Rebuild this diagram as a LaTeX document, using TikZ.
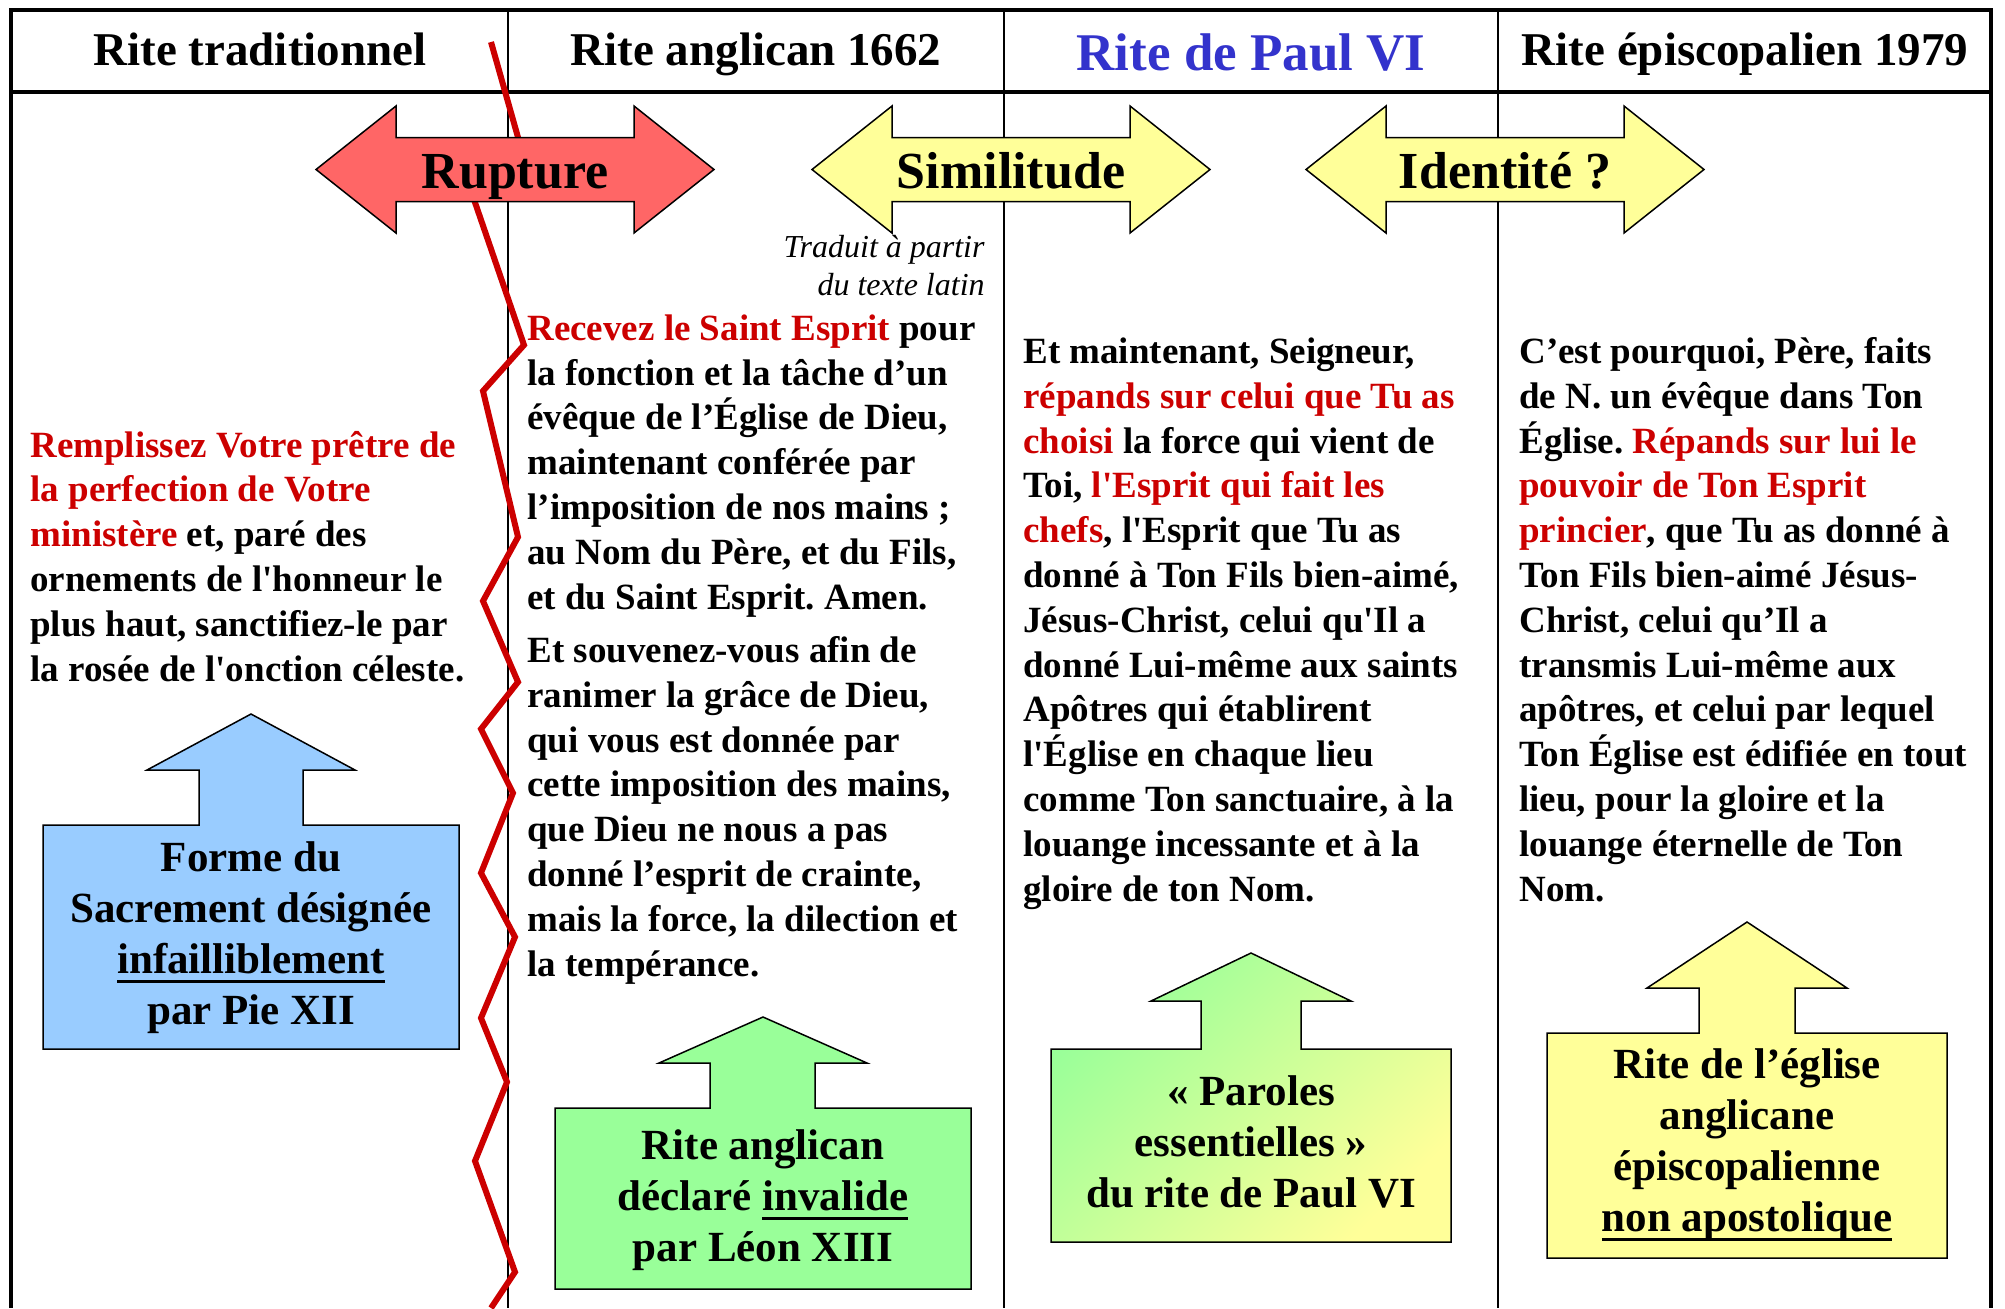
\documentclass[tikz,border=0pt]{standalone}
\usepackage{fontspec}
\setmainfont{Liberation Serif}[Ligatures=TeXOff]
\usetikzlibrary{positioning}
\frenchspacing

\definecolor{rouge}{HTML}{CC0000}
\definecolor{bleutitre}{HTML}{3333CC}
\definecolor{saumon}{HTML}{FF6666}
\definecolor{jaune}{HTML}{FFFF99}
\definecolor{vert}{HTML}{99FF99}
\definecolor{bleu}{HTML}{99CCFF}

\newcommand{\rg}[1]{\textcolor{rouge}{#1}}
\newcommand{\souligne}[1]{\setbox0\hbox{#1}\rlap{\rule[-5pt]{\wd0}{1.5pt}}\box0}

\begin{document}
\begin{tikzpicture}[x=0.5pt, y=-0.5pt,
    titre/.style={font=\fontsize{23.5pt}{28pt}\selectfont\bfseries, anchor=base, inner sep=0pt},
    texte/.style={font=\fontsize{18.5pt}{22.4pt}\selectfont\bfseries, align=left, anchor=base west, inner sep=0pt},
    note/.style={font=\fontsize{16pt}{19pt}\selectfont\itshape, align=right, anchor=base east, inner sep=0pt},
    cadre/.style={draw, line width=0.75pt, line join=miter},
    etiquette/.style={font=\fontsize{21.5pt}{25.5pt}\selectfont\bfseries, align=center, anchor=base, inner sep=0pt},
    grosmot/.style={font=\fontsize{26pt}{30pt}\selectfont\bfseries, anchor=base, inner sep=0pt}]

    \useasboundingbox (0,0) rectangle (2005,1308);

    % le tableau
    \draw[line width=2pt] (11,1308) |- (1991,10) -- (1991,1308);
    \draw[line width=1.75pt] (11,92) -- (1991,92);
    \foreach \x in {508,1004,1498}
        \draw[line width=1pt] (\x,10) -- (\x,1308);

    \node[titre]                  (trad)  at (260,65)  {Rite traditionnel};
    \node[titre]                  (angl)  at (756,65)  {Rite anglican 1662};
    \node[titre, text=bleutitre,
          font=\fontsize{26.5pt}{30pt}\selectfont\bfseries]
                                  (paul)  at (1251,70) {Rite de Paul VI};
    \node[titre]                  (episc) at (1745,65) {Rite épiscopalien 1979};

    % la rupture
    \draw[rouge, line width=3pt, line join=miter]
        (491,42) -- (523,155) -- (468,182) -- (524,345) -- (483,391) -- (518,537)
        -- (483,601) -- (518,682) -- (481,729) -- (513,793) -- (481,873) -- (515,937)
        -- (481,1018) -- (507,1082) -- (475,1161) -- (515,1272) -- (491,1308);

    % fleches doubles
    \foreach \cx/\coul/\mot/\nom in {515/saumon/Rupture/rupture, 1011/jaune/Similitude/simil, 1505/jaune/Identité ?/ident} {
        \draw[cadre, fill=\coul] (\cx-199,169.5) -- (\cx-119,106) -- (\cx-119,137.5)
            -- (\cx+119,137.5) -- (\cx+119,106) -- (\cx+199,169.5) -- (\cx+119,233)
            -- (\cx+119,201.5) -- (\cx-119,201.5) -- (\cx-119,233) -- cycle;
        \node[grosmot] (\nom) at (\cx,188) {\mot};
    }

    % textes (ancre = ligne de base de la derniere ligne)
    \node[texte] (forme latine) at (30,681) {\rg{Remplissez Votre prêtre de}\\
        \rg{la perfection de Votre}\\
        \rg{ministère} et, paré des\\
        ornements de l'honneur le\\
        plus haut, sanctifiez-le par\\
        la rosée de l'onction céleste.};

    \node[note] (traduit) at (985,295) {Traduit à partir\\du texte latin};

    \node[texte] (forme anglicane) at (527,609) {\rg{Recevez le Saint Esprit} pour\\
        la fonction et la tâche d’un\\
        évêque de l’Église de Dieu,\\
        maintenant conférée par\\
        l’imposition de nos mains ;\\
        au Nom du Père, et du Fils,\\
        et du Saint Esprit. Amen.};
    \node[texte] (souvenez) at (527,976) {Et souvenez-vous afin de\\
        ranimer la grâce de Dieu,\\
        qui vous est donnée par\\
        cette imposition des mains,\\
        que Dieu ne nous a pas\\
        donné l’esprit de crainte,\\
        mais la force, la dilection et\\
        la tempérance.};

    \node[texte] (forme paul) at (1023,901) {Et maintenant, Seigneur,\\
        \rg{répands sur celui que Tu as}\\
        \rg{choisi} la force qui vient de\\
        Toi, \rg{l'Esprit qui fait les}\\
        \rg{chefs}, l'Esprit que Tu as\\
        donné à Ton Fils bien-aimé,\\
        Jésus-Christ, celui qu'Il a\\
        donné Lui-même aux saints\\
        Apôtres qui établirent\\
        l'Église en chaque lieu\\
        comme Ton sanctuaire, à la\\
        louange incessante et à la\\
        gloire de ton Nom.};

    \node[texte] (forme episc) at (1519,901) {C’est pourquoi, Père, faits\\
        de N. un évêque dans Ton\\
        Église. \rg{Répands sur lui le}\\
        \rg{pouvoir de Ton Esprit}\\
        \rg{princier}, que Tu as donné à\\
        Ton Fils bien-aimé Jésus-\\
        Christ, celui qu’Il a\\
        transmis Lui-même aux\\
        apôtres, et celui par lequel\\
        Ton Église est édifiée en tout\\
        lieu, pour la gloire et la\\
        louange éternelle de Ton\\
        Nom.};

    % fleches vers le haut
    \draw[cadre, fill=bleu] (43,1049) -- (43,825) -- (199,825) -- (199,770) -- (147,770)
        -- (251,714) -- (355,770) -- (303,770) -- (303,825) -- (459,825) -- (459,1049) -- cycle;
    \draw[cadre, fill=vert] (555,1289) -- (555,1108) -- (710,1108) -- (710,1063) -- (659,1063)
        -- (763,1017) -- (867,1063) -- (815,1063) -- (815,1108) -- (971,1108) -- (971,1289) -- cycle;
    \draw[cadre, top color=vert, bottom color=jaune, shading angle=45]
        (1051,1242) -- (1051,1049) -- (1201,1049) -- (1201,1001) -- (1151,1001)
        -- (1251,953) -- (1351,1001) -- (1301,1001) -- (1301,1049) -- (1451,1049) -- (1451,1242) -- cycle;
    \draw[cadre, fill=jaune] (1547,1258) -- (1547,1033) -- (1699,1033) -- (1699,988) -- (1647,988)
        -- (1747,922) -- (1847,988) -- (1795,988) -- (1795,1033) -- (1947,1033) -- (1947,1258) -- cycle;

    \node[etiquette] (pie)    at (251,1024)  {Forme du\\Sacrement désignée\\\souligne{infailliblement}\\par Pie XII};
    \node[etiquette] (leon)   at (763,1261)  {Rite anglican\\déclaré \souligne{invalide}\\par Léon XIII};
    \node[etiquette] (mots)   at (1251,1207) {« Paroles\\essentielles »\\du rite de Paul VI};
    \node[etiquette] (eglise) at (1747,1231) {Rite de l’église\\anglicane\\épiscopalienne\\\souligne{non apostolique}};
\end{tikzpicture}
\end{document}
